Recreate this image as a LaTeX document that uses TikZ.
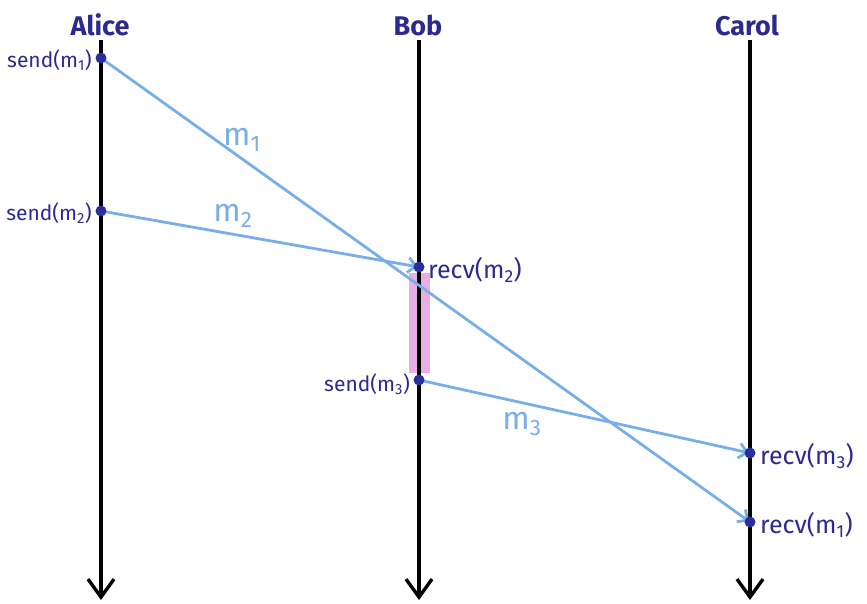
\documentclass[tikz,border=0pt]{standalone}
\usepackage{fontspec}
\setmainfont{Fira Sans}
\usetikzlibrary{arrows.meta}
\definecolor{ink}{HTML}{2D2A8E}
\definecolor{msg}{HTML}{7AAEE6}
\definecolor{dotc}{HTML}{2B2F9A}
\definecolor{pinkc}{HTML}{E6B0E4}
\tikzset{
  x=1pt, y=-1pt,
  title/.style={text=ink, font=\fontsize{27}{29}\selectfont\bfseries, inner sep=0pt},
  sendlbl/.style={text=ink, font=\fontsize{21}{23}\selectfont, inner sep=0pt},
  recvlbl/.style={text=ink, font=\fontsize{25}{27}\selectfont, inner sep=0pt},
  mlbl/.style={text=msg, font=\fontsize{32}{34}\selectfont, inner sep=0pt},
  event/.style={circle, fill=dotc, inner sep=0pt, minimum size=11pt},
  timeline/.style={line width=3.4pt, -{Straight Barb[length=18pt, width=26pt, line width=3.4pt]}},
  message/.style={msg, line width=2.8pt, -{Straight Barb[length=8pt, width=15pt, line width=2.8pt]}, shorten >=1pt}
}
\newcommand{\sub}[1]{\textsubscript{#1}}
\begin{document}
\begin{tikzpicture}
\useasboundingbox (0,0) rectangle (867,603);
% pink region
\fill[pinkc] (409,273) rectangle (430,373);
% titles
\node[title] (alice) at (100,25) {Alice};
\node[title] (bob) at (418,25) {Bob};
\node[title] (carol) at (747,25) {Carol};
% timelines
\coordinate (at) at (101,40); \coordinate (ab) at (101,600);
\coordinate (bt) at (419,40); \coordinate (bb) at (419,600);
\coordinate (ct) at (750,40); \coordinate (cb) at (750,600);
\draw[timeline] (at) -- (ab);
\draw[timeline] (bt) -- (bb);
\draw[timeline] (ct) -- (cb);
% events
\coordinate (s1) at (101,58);
\coordinate (s2) at (101,211);
\coordinate (r2) at (419,267);
\coordinate (s3) at (419,380);
\coordinate (r3) at (750,453);
\coordinate (r1) at (750,522);
% messages
\draw[message] (s1) -- (r1);
\draw[message] (s2) -- (r2);
\draw[message] (s3) -- (r3);
% dots
\foreach \p in {s1,s2,r2,s3,r3,r1} \node[event] at (\p) {};
% event labels
\node[sendlbl, anchor=east] (ls1) at (92,60) {send(m\sub{1})};
\node[sendlbl, anchor=east] (ls2) at (92,213) {send(m\sub{2})};
\node[recvlbl, anchor=west] (lr2) at (428,270) {recv(m\sub{2})};
\node[sendlbl, anchor=east] (ls3) at (410,384) {send(m\sub{3})};
\node[recvlbl, anchor=west] (lr3) at (760,456) {recv(m\sub{3})};
\node[recvlbl, anchor=west] (lr1) at (760,525) {recv(m\sub{1})};
% message labels
\node[mlbl] (m1) at (242,140) {m\sub{1}};
\node[mlbl] (m2) at (233,216) {m\sub{2}};
\node[mlbl] (m3) at (522,424) {m\sub{3}};
\end{tikzpicture}
\end{document}
